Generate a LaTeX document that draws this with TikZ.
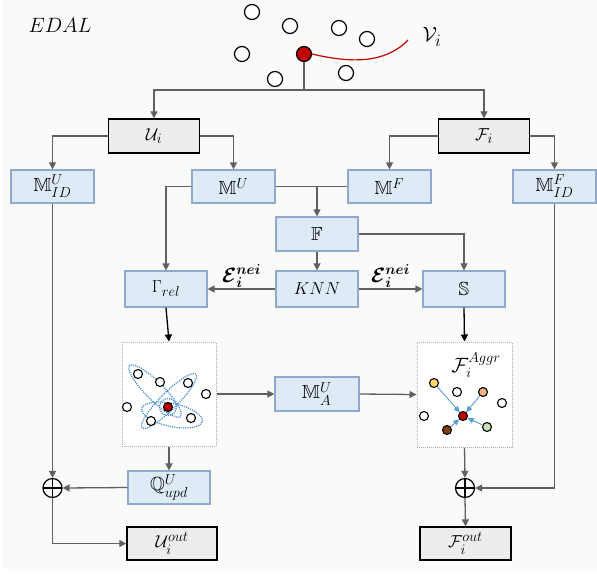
\documentclass[tikz,border=0pt]{standalone}
\usepackage{amsmath,amssymb,bm}
\usetikzlibrary{arrows.meta,calc}
\DeclareMathSizes{19}{19}{14.5}{11}
\DeclareMathSizes{20.74}{20.74}{14.4}{12}
\DeclareMathSizes{21}{21}{15.5}{11}
\DeclareMathSizes{22}{22}{16}{12}
\definecolor{bluefill}{HTML}{DEEBF7}
\definecolor{blueedge}{HTML}{8FAACC}
\definecolor{grayfill}{HTML}{EDEDED}
\definecolor{lin}{HTML}{606060}
\definecolor{bg}{HTML}{FAFAF8}
\definecolor{darkred}{HTML}{C00000}
\definecolor{dotblue}{HTML}{4A8CD0}
\definecolor{arrblue}{HTML}{5B9BD5}
\definecolor{yellowc}{HTML}{FFD966}
\definecolor{orangec}{HTML}{F4B183}
\definecolor{brownc}{HTML}{843C0C}
\definecolor{greenc}{HTML}{C5E0B4}
\begin{document}
\begin{tikzpicture}[x=1pt,y=-1pt,
  every node/.style={font=\fontsize{19}{22}\selectfont},
  bbox/.style={draw=blueedge, fill=bluefill, line width=1.2pt, minimum width=83pt, minimum height=33pt, inner sep=0pt},
  gbox/.style={draw=black, fill=grayfill, line width=1.4pt, minimum width=91pt, minimum height=34pt, inner sep=0pt},
  dbox/.style={draw=black!30, fill=white, densely dotted, line width=1pt, inner sep=0pt},
  conn/.style={draw=lin, line width=1.3pt, -{Triangle[length=7pt,width=7pt]}},
  bconn/.style={draw=black, line width=1.3pt, -{Triangle[length=7pt,width=7pt]}},
  plain/.style={draw=lin, line width=1.3pt},
  pt/.style={circle, draw=black, line width=1.2pt, fill=white, minimum size=15pt, inner sep=0pt},
  sp/.style={circle, draw=black, line width=1.1pt, fill=white, minimum size=9pt, inner sep=0pt},
  dell/.style={draw=dotblue, densely dotted, line width=1.2pt},
  barrow/.style={draw=arrblue, line width=0.9pt, shorten <=0.5pt, -{Triangle[length=6pt,width=5.5pt]}},
  elab/.style={font=\fontsize{20.74}{24}\selectfont, inner sep=0.5pt},
  oplus/.style={circle, draw=black, line width=1.2pt, minimum size=19pt, inner sep=0pt,
    path picture={\draw[black,line width=1.2pt] (path picture bounding box.north) -- (path picture bounding box.south) (path picture bounding box.west) -- (path picture bounding box.east);}}
]
\useasboundingbox (0,0) rectangle (597,574);
\fill[white] (0,0) rectangle (597,574);
\fill[bg] (3,0) rectangle (597,569);

\node[font=\fontsize{21}{24}\selectfont] (title) at (60,25) {$EDAL$};

% top graph
\node[pt] (c1) at (252,12) {};
\node[pt] (c2) at (290,26) {};
\node[pt] (c3) at (339,28) {};
\node[pt] (c4) at (367,39) {};
\node[pt] (c5) at (242,54) {};
\node[pt] (c6) at (275,79) {};
\node[pt] (c7) at (346,73) {};
\node[pt, fill=darkred] (v) at (304,54) {};
\coordinate (vend) at (408,40);
\draw[darkred, line width=1.2pt] (v.east) .. controls (350,63) and (385,64) .. (vend);
\node[font=\fontsize{22}{25}\selectfont] (vlabel) at (432,37) {$\mathcal{V}_i$};

% boxes
\node[gbox] (Ui) at (154,136) {$\mathcal{U}_i$};
\node[gbox] (Fi) at (484,136) {$\mathcal{F}_i$};
\node[bbox] (MIDU) at (52.5,186.5) {$\mathbb{M}_{ID}^{U}$};
\node[bbox] (MU) at (233.5,186.5) {$\mathbb{M}^{U}$};
\node[bbox] (MF) at (389.5,186.5) {$\mathbb{M}^{F}$};
\node[bbox] (MIDF) at (554.5,186.5) {$\mathbb{M}_{ID}^{F}$};
\node[bbox, minimum width=82pt, minimum height=34pt] (FF) at (317,234) {$\mathbb{F}$};
\node[bbox, minimum width=82pt, minimum height=36pt] (KNN) at (317,289) {$KNN$};
\node[bbox, minimum width=82pt, minimum height=36pt] (G) at (166,289) {$\Gamma_{rel}$};
\node[bbox, minimum width=82pt, minimum height=36pt] (S) at (464,289) {$\mathbb{S}$};
\node[dbox, minimum width=94pt, minimum height=104pt] (DL) at (169,394) {};
\node[dbox, minimum width=95pt, minimum height=105pt] (DR) at (464.5,394.5) {};
\node[bbox, minimum width=84pt, minimum height=34pt] (MA) at (317,394) {$\mathbb{M}_{A}^{U}$};
\node[bbox, minimum width=82pt, minimum height=33pt] (Q) at (169,487.5) {$\mathbb{Q}_{upd}^{U}$};
\node[oplus] (OL) at (52.5,488) {};
\node[oplus] (OR) at (465,488) {};
\node[gbox, minimum width=90pt, minimum height=33pt] (Uout) at (172,543.5) {$\mathcal{U}_i^{out}$};
\node[gbox, minimum width=91pt, minimum height=33pt] (Fout) at (465.5,543.5) {$\mathcal{F}_i^{out}$};

% connectors
\coordinate (split) at (304,90);
\draw[plain] (v.south) -- (split);
\draw[conn] (split) -| (Ui.north);
\draw[conn] (split) -| (Fi.north);
\draw[conn] (Ui.west) -| (MIDU.north);
\draw[conn] (Ui.east) -| (MU.north);
\draw[conn] (Fi.west) -| (MF.north);
\draw[conn] (Fi.east) -| (MIDF.north);
\draw[conn] (MU.west) -| (G.north);
\coordinate (merge) at (317,186.5);
\draw[plain] (MU.east) -- (merge);
\draw[plain] (MF.west) -- (merge);
\draw[conn] (merge) -- (FF.north);
\draw[conn] (FF.east) -| (S.north);
\draw[conn] (FF.south) -- (KNN.north);
\draw[conn] (KNN.west) -- node[above, elab] {$\bm{\mathcal{E}}_{\bm{i}}^{\bm{nei}}$} (G.east);
\draw[conn] (KNN.east) -- node[above, elab] {$\bm{\mathcal{E}}_{\bm{i}}^{\bm{nei}}$} (S.west);
\draw[bconn] (G.south) -- (DL.north);
\draw[bconn] (S.south) -- (DR.north);
\draw[conn] (DL.east) -- (MA.west);
\draw[conn] (MA.east) -- (DR.west);
\draw[conn] (DL.south) -- (Q.north);
\draw[conn] (Q.west) -- (OL.east);
\draw[conn] (MIDU.south) -- (OL.north);
\draw[conn] (OL.south) |- (Uout.west);
\draw[conn] (DR.south) -- (OR.north);
\draw[conn] (MIDF.south) |- (OR.east);
\draw[conn] (OR.south) -- (Fout.north);

% left inner graph
\draw[dell] (155,391) ellipse[x radius=36pt, y radius=9pt, rotate=-45];
\draw[dell] (169,401) ellipse[x radius=38pt, y radius=8.5pt, rotate=45];
\draw[dell] (172,415) ellipse[x radius=31pt, y radius=11.5pt, rotate=-12];
\draw[dell] (168,407) circle[radius=8.5pt];
\node[sp] (l1) at (138,374) {};
\node[sp] (l2) at (160,382) {};
\node[sp] (l3) at (188,383) {};
\node[sp] (l4) at (206,394) {};
\node[sp] (l5) at (127,407) {};
\node[sp] (l6) at (151,421) {};
\node[sp] (l7) at (191,418) {};
\node[sp, fill=darkred] (lr) at (168,407) {};

% right inner graph
\node[font=\fontsize{20.74}{24}\selectfont] (agg) at (476,365) {$\mathcal{F}_i^{Aggr}$};
\node[sp, fill=yellowc] (y1) at (434,383) {};
\node[sp] (w1) at (457,392) {};
\node[sp, fill=orangec] (o1) at (483,392) {};
\node[sp] (w2) at (502,403) {};
\node[sp] (w3) at (424,416) {};
\node[sp, fill=darkred] (rr) at (463,416) {};
\node[sp, fill=brownc] (b1) at (447,430) {};
\node[sp, fill=greenc] (g1) at (487,427) {};
\draw[barrow] (y1) -- (rr);
\draw[barrow] (o1) -- (rr);
\draw[barrow] (g1) -- (rr);
\draw[barrow] (b1) -- (rr);
\end{tikzpicture}
\end{document}
